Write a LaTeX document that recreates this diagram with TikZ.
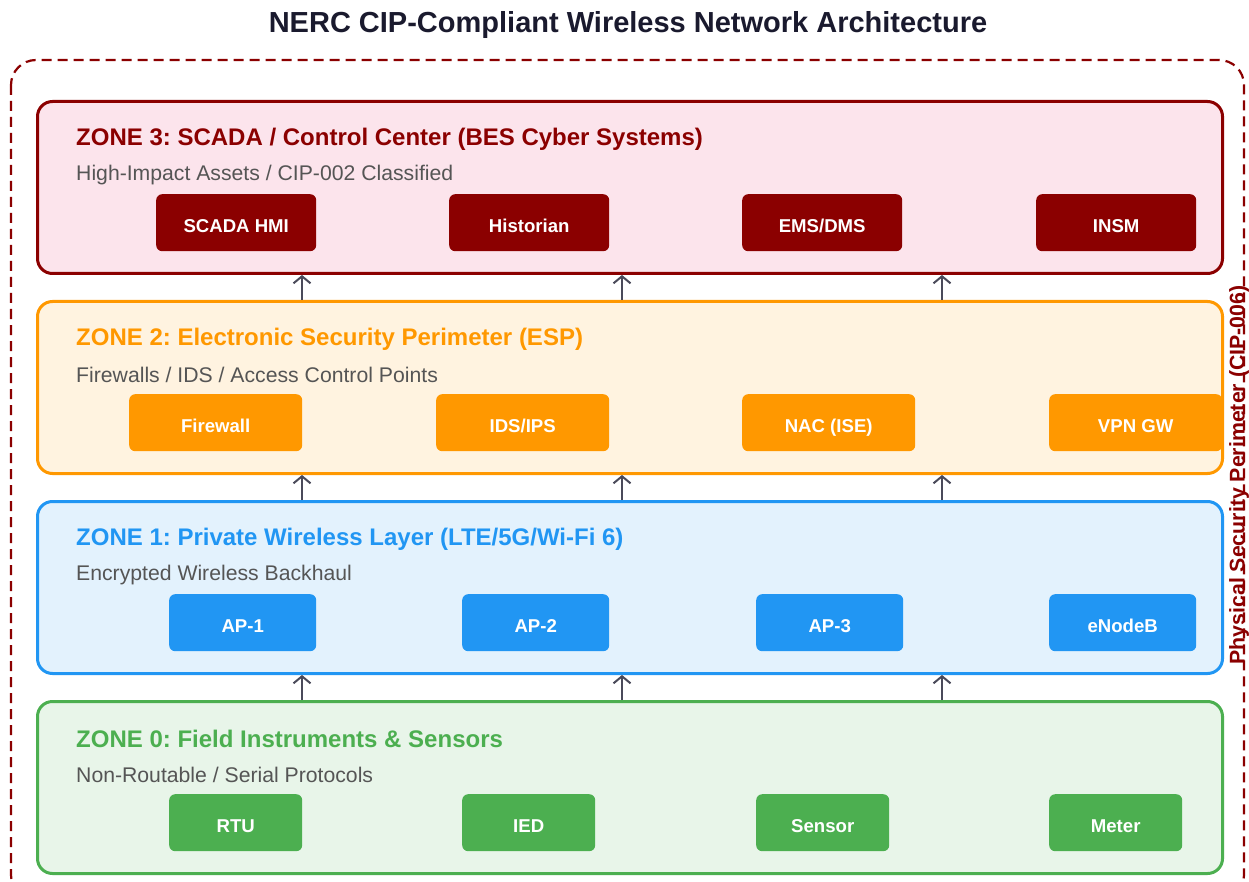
\documentclass[tikz,border=0pt]{standalone}
\usepackage{fontspec}
\setmainfont{Liberation Sans}
\usetikzlibrary{arrows.meta,calc}
\definecolor{zr}{HTML}{8B0000}
\definecolor{zrf}{HTML}{FCE4EC}
\definecolor{zo}{HTML}{FF9800}
\definecolor{zof}{HTML}{FFF3E0}
\definecolor{zb}{HTML}{2196F3}
\definecolor{zbf}{HTML}{E3F2FD}
\definecolor{zg}{HTML}{4CAF50}
\definecolor{zgf}{HTML}{E8F5E9}
\definecolor{subgray}{HTML}{555555}
\definecolor{titlec}{HTML}{1A1A2E}
\definecolor{arrc}{HTML}{4A4A5A}
\frenchspacing
\begin{document}
\begin{tikzpicture}[x=1pt,y=-1pt,
  zone/.style={draw,line width=3pt,rounded corners=15pt,minimum width=1185pt,minimum height=172pt,anchor=north west,inner sep=0pt},
  zhead/.style={anchor=west,font=\bfseries\fontsize{24}{28}\selectfont,inner sep=0pt},
  zsub/.style={anchor=west,font=\fontsize{21.2}{25}\selectfont,text=subgray,inner sep=0pt},
  btn/.style={rounded corners=6pt,minimum height=57pt,anchor=north west,inner sep=0pt,text=white,font=\bfseries\fontsize{18.6}{22}\selectfont,text height=20.5pt,text depth=0pt},
  arr/.style={draw=arrc,line width=2pt,-{Straight Barb[length=7pt,width=17pt,line width=2pt]}}
]
\useasboundingbox (0,0) rectangle (1249,882);
\fill[white] (0,0) rectangle (1249,882);
\node[font=\bfseries\fontsize{29}{33}\selectfont,text=titlec] (title) at (628,25) {NERC CIP-Compliant Wireless Network Architecture};
% outer perimeter
\begin{scope}
\clip (0,0) rectangle (1249,882);
\draw[zr,line width=2.2pt,dash pattern=on 10pt off 6pt,rounded corners=25pt] (11,60) rectangle (1244,900);
\end{scope}
\node[rotate=90,text=zr,font=\bfseries\fontsize{21.3}{24}\selectfont,inner sep=0pt] (psp) at (1239,475) {Physical Security Perimeter (CIP-006)};
% zones
\node[zone,draw=zr,fill=zrf] (z3) at (36,100) {};
\node[zone,draw=zo,fill=zof] (z2) at (36,300) {};
\node[zone,draw=zb,fill=zbf] (z1) at (36,500) {};
\node[zone,draw=zg,fill=zgf] (z0) at (36,700) {};
% zone 3
\node[zhead,text=zr] (h3) at (76,139) {ZONE 3: SCADA / Control Center (BES Cyber Systems)};
\node[zsub] (s3) at (76,175) {High-Impact Assets / CIP-002 Classified};
\node[btn,fill=zr,minimum width=160pt] (b31) at (156,194) {SCADA HMI};
\node[btn,fill=zr,minimum width=160pt] (b32) at (449,194) {Historian};
\node[btn,fill=zr,minimum width=160pt] (b33) at (742,194) {EMS/DMS};
\node[btn,fill=zr,minimum width=160pt] (b34) at (1036,194) {INSM};
% zone 2
\node[zhead,text=zo] (h2) at (76,339) {ZONE 2: Electronic Security Perimeter (ESP)};
\node[zsub] (s2) at (76,375) {Firewalls / IDS / Access Control Points};
\node[btn,fill=zo,minimum width=173pt] (b21) at (129,394) {Firewall};
\node[btn,fill=zo,minimum width=173pt] (b22) at (436,394) {IDS/IPS};
\node[btn,fill=zo,minimum width=173pt] (b23) at (742,394) {NAC (ISE)};
\node[btn,fill=zo,minimum width=173pt] (b24) at (1049,394) {VPN GW};
% zone 1
\node[zhead,text=zb] (h1) at (76,539) {ZONE 1: Private Wireless Layer (LTE/5G/Wi-Fi 6)};
\node[zsub] (s1) at (76,575) {Encrypted Wireless Backhaul};
\node[btn,fill=zb,minimum width=147pt] (b11) at (169,594) {AP-1};
\node[btn,fill=zb,minimum width=147pt] (b12) at (462,594) {AP-2};
\node[btn,fill=zb,minimum width=147pt] (b13) at (756,594) {AP-3};
\node[btn,fill=zb,minimum width=147pt] (b14) at (1049,594) {eNodeB};
% zone 0
\node[zhead,text=zg] (h0) at (76,739) {ZONE 0: Field Instruments \& Sensors};
\node[zsub] (s0) at (76,775) {Non-Routable / Serial Protocols};
\node[btn,fill=zg,minimum width=133pt] (b01) at (169,794) {RTU};
\node[btn,fill=zg,minimum width=133pt] (b02) at (462,794) {IED};
\node[btn,fill=zg,minimum width=133pt] (b03) at (756,794) {Sensor};
\node[btn,fill=zg,minimum width=133pt] (b04) at (1049,794) {Meter};
% arrows
\foreach \x in {302,622,942}{
  \draw[arr] (z0.north -| \x,0) -- (z1.south -| \x,0);
  \draw[arr] (z1.north -| \x,0) -- (z2.south -| \x,0);
  \draw[arr] (z2.north -| \x,0) -- (z3.south -| \x,0);
}
\end{tikzpicture}
\end{document}
